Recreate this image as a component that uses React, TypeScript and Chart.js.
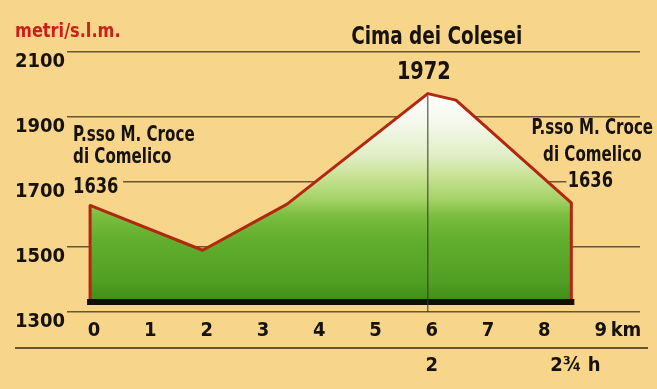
import React, { useEffect, useRef } from 'react';
import { Chart, registerables } from 'chart.js';

Chart.register(...registerables);

// ---- data ----
const distanceKm = [0, 2, 3.5, 6, 6.5, 8.55];
const elevationM = [1628, 1490, 1632, 1972, 1952, 1636];
const baseElevation = 1331;
const elevationTicks = [1300, 1500, 1700, 1900, 2100];
const kmTicks = [0, 1, 2, 3, 4, 5, 6, 7, 8, 9];
const kmTickLabels = ['0', '1', '2', '3', '4', '5', '6', '7', '8', '9'];
const kmUnit = 'km';
const hourTicksKm = [6, 8.55];
const hourTickLabels = ['2', '2¾ h'];
const yAxisTitle = 'metri/s.l.m.';
const summitKm = 6;
const summitLabels = ['Cima dei Colesei', '1972'];
const startLabels = ['P.sso M. Croce', 'di Comelico', '1636'];
const endLabels = ['P.sso M. Croce', 'di Comelico', '1636'];

// ---- style ----
const FONT = "'DejaVu Sans Condensed', 'Liberation Sans Narrow', sans-serif";
const BG = '#f7d68c';
const INK = '#17120c';
const GRID = 'rgba(88,72,36,0.9)';
const RED = '#b3260f';
const TITLE_RED = '#cc1f1a';

function drawText(c: CanvasRenderingContext2D, text: string, x: number, y: number, size: number, sx: number, align: CanvasTextAlign) {
  c.save();
  c.translate(x, y);
  c.scale(sx, 1);
  c.font = `bold ${size}px ${FONT}`;
  c.textAlign = align;
  c.textBaseline = 'middle';
  c.fillText(text, 0, 0);
  c.restore();
}

const decorPlugin = {
  id: 'decor',
  beforeDraw(chart: any) {
    const c = chart.ctx;
    c.save();
    c.fillStyle = BG;
    c.fillRect(0, 0, chart.width, chart.height);
    c.restore();
  },
  afterDatasetsDraw(chart: any) {
    const c = chart.ctx;
    const x = chart.scales.x;
    const y = chart.scales.y;
    const peak = Math.max(...elevationM);
    const px = x.getPixelForValue(summitKm);
    c.save();
    c.strokeStyle = 'rgba(55,60,35,0.85)';
    c.lineWidth = 1.2;
    c.beginPath();
    c.moveTo(px, y.getPixelForValue(peak) + 2);
    c.lineTo(px, y.getPixelForValue(y.min));
    c.stroke();
    c.restore();
  },
  afterDraw(chart: any) {
    const c = chart.ctx;
    const x = chart.scales.x;
    const y = chart.scales.y;
    const x2 = chart.scales.x2;
    const area = chart.chartArea;
    c.save();
    // title
    c.fillStyle = TITLE_RED;
    drawText(c, yAxisTitle, 15, 32, 20, 0.9, 'left');

    // long bottom rule above hours
    c.strokeStyle = GRID;
    c.lineWidth = 2;
    c.beginPath();
    c.moveTo(15, x2.top - 2);
    c.lineTo(area.right + 8, x2.top - 2);
    c.stroke();

    // km unit after last tick
    c.fillStyle = INK;
    const lastTick = kmTicks[kmTicks.length - 1];
    drawText(c, kmUnit, x.getPixelForValue(lastTick) + 14, x.top + 7 + 12, 20, 1, 'left');

    // summit labels
    const peakIdx = elevationM.indexOf(Math.max(...elevationM));
    const sx = x.getPixelForValue(distanceKm[peakIdx]);
    const sy = y.getPixelForValue(elevationM[peakIdx]);
    drawText(c, summitLabels[0], sx + 9, sy - 56, 25, 0.82, 'center');
    drawText(c, summitLabels[1], sx - 4, sy - 21, 25, 0.86, 'center');

    // start labels
    const ax = x.getPixelForValue(distanceKm[0]);
    const ay = y.getPixelForValue(elevationM[0]);
    c.fillStyle = BG;
    c.fillRect(ax - 24, ay - 30, 57, 22);
    c.fillStyle = INK;
    drawText(c, startLabels[0], ax - 17, ay - 70, 21, 0.8, 'left');
    drawText(c, startLabels[1], ax - 17, ay - 48, 21, 0.8, 'left');
    drawText(c, startLabels[2], ax - 17, ay - 18, 21, 0.86, 'left');

    // end labels
    const n = distanceKm.length - 1;
    const bx = x.getPixelForValue(distanceKm[n]);
    const by = y.getPixelForValue(elevationM[n]);
    c.fillStyle = BG;
    c.fillRect(bx - 5, by - 31, 80, 22);
    c.fillStyle = INK;
    drawText(c, endLabels[0], bx + 21, by - 74, 21, 0.8, 'center');
    drawText(c, endLabels[1], bx + 21, by - 47, 21, 0.8, 'center');
    drawText(c, endLabels[2], bx + 19, by - 21, 21, 0.86, 'center');
    c.restore();
  },
};

export default function App() {
  const ref = useRef<HTMLCanvasElement>(null);

  useEffect(() => {
    const canvas = ref.current;
    if (!canvas) return;
    const first = distanceKm[0];
    const last = distanceKm[distanceKm.length - 1];
    const profile = distanceKm.map((d, i) => ({ x: d, y: elevationM[i] }));
    const outline = [{ x: first, y: baseElevation }, ...profile, { x: last, y: baseElevation }];
    const tickFont = { family: FONT, size: 20, weight: 'bold' as const, lineHeight: 1.2 };

    const gradient = (ctx: any) => {
      const chart = ctx.chart;
      const { chartArea, scales } = chart;
      if (!chartArea) return '#5aa82a';
      const top = scales.y.getPixelForValue(Math.max(...elevationM));
      const bot = scales.y.getPixelForValue(baseElevation);
      const g = chart.ctx.createLinearGradient(0, top, 0, bot);
      g.addColorStop(0, '#ffffff');
      g.addColorStop(0.14, '#f5f8ec');
      g.addColorStop(0.3, '#e0eec4');
      g.addColorStop(0.41, '#c4e08e');
      g.addColorStop(0.51, '#a4d266');
      g.addColorStop(0.58, '#7cbe40');
      g.addColorStop(0.7, '#62ae2e');
      g.addColorStop(0.89, '#52a024');
      g.addColorStop(1, '#3f8c1a');
      return g;
    };

    const chart = new Chart(canvas, {
      type: 'line',
      data: {
        datasets: [
          {
            label: 'base',
            data: [
              { x: first, y: baseElevation },
              { x: last, y: baseElevation },
            ],
            borderColor: '#150e07',
            borderWidth: 6,
            borderCapStyle: 'square',
            pointRadius: 0,
            fill: false,
            order: 0,
          },
          {
            label: 'profile',
            data: outline,
            borderColor: RED,
            borderWidth: 3,
            borderJoinStyle: 'round',
            pointRadius: 0,
            tension: 0,
            fill: { value: baseElevation },
            backgroundColor: gradient,
            order: 1,
          },
        ],
      },
      options: {
        animation: false,
        responsive: false,
        devicePixelRatio: 1,
        events: [],
        layout: { padding: { left: 15, right: 17, top: 52, bottom: 0 } },
        plugins: {
          legend: { display: false },
          tooltip: { enabled: false },
          title: { display: false },
        },
        scales: {
          x: {
            type: 'linear',
            position: 'bottom',
            weight: 0,
            min: -0.41,
            max: 9.77,
            grid: { display: false, drawTicks: false },
            border: { display: false },
            afterBuildTicks: (s: any) => {
              s.ticks = kmTicks.map((v) => ({ value: v }));
            },
            afterFit: (s: any) => {
              s.height = 38;
            },
            ticks: {
              autoSkip: false,
              maxRotation: 0,
              padding: 7,
              labelOffset: 4,
              color: INK,
              font: tickFont,
              callback: (_v: any, i: number) => kmTickLabels[i],
            },
          },
          x2: {
            type: 'linear',
            position: 'bottom',
            weight: 1,
            min: -0.41,
            max: 9.77,
            grid: { display: false, drawTicks: false },
            border: { display: false },
            afterBuildTicks: (s: any) => {
              s.ticks = hourTicksKm.map((v) => ({ value: v }));
            },
            afterFit: (s: any) => {
              s.height = 39;
            },
            ticks: {
              autoSkip: false,
              maxRotation: 0,
              padding: 4,
              labelOffset: 4,
              color: INK,
              font: tickFont,
              callback: (_v: any, i: number) => hourTickLabels[i],
            },
          },
          y: {
            type: 'linear',
            position: 'left',
            min: 1300,
            max: 2100,
            grid: { color: GRID, lineWidth: 1.5, drawTicks: false },
            border: { display: false },
            afterBuildTicks: (s: any) => {
              s.ticks = elevationTicks.map((v) => ({ value: v }));
            },
            afterFit: (s: any) => {
              s.width = 52;
            },
            ticks: {
              padding: 0,
              crossAlign: 'far',
              labelOffset: 10,
              color: INK,
              font: tickFont,
              callback: (v: any) => String(v),
            },
          },
        },
      },
      plugins: [decorPlugin],
    } as any);

    return () => chart.destroy();
  }, []);

  return (
    <div style={{ position: 'fixed', left: 0, top: 0, width: 657, height: 389, background: BG }}>
      <canvas ref={ref} width={657} height={389} style={{ display: 'block', width: 657, height: 389 }} />
    </div>
  );
}
